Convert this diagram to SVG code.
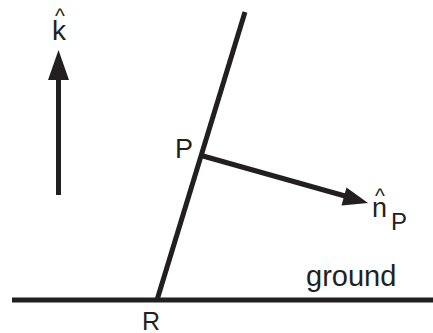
<svg xmlns="http://www.w3.org/2000/svg" width="433" height="333" viewBox="0 0 433 333">
<style>
.ln{stroke:#231f20;stroke-width:5;fill:none}
.lbl{font-family:"Liberation Sans",Arial,sans-serif;fill:#231f20}
.hat{font-family:"Liberation Sans",Arial,sans-serif;fill:#231f20;font-size:21px;text-anchor:middle}
.hd{fill:#231f20}
</style>
<rect width="433" height="333" fill="#fff"/>
<g id="ground">
<line class="ln" x1="12" y1="300" x2="433" y2="300"/>
<text class="lbl" x="306" y="286" font-size="29">ground</text>
</g>
<g id="rod">
<line class="ln" x1="157" y1="300" x2="245" y2="12"/>
</g>
<g id="R"><text class="lbl" x="142" y="330" font-size="25">R</text></g>
<g id="P"><text class="lbl" x="175" y="158" font-size="27">P</text></g>
<g id="k">
<text class="hat" x="60" y="23">^</text>
<text class="lbl" x="52" y="40" font-size="28">k</text>
</g>
<g id="nP">
<text class="hat" x="380" y="203">^</text>
<text class="lbl" x="372" y="217" font-size="27">n</text>
<text class="lbl" x="391" y="230" font-size="24">P</text>
</g>
<g id="connectors">
<line class="ln" x1="58.5" y1="195" x2="58.5" y2="76"/>
<polygon class="hd" points="58.5,50 69,80 48,80"/>
<line class="ln" x1="203" y1="156" x2="345" y2="196"/>
<polygon class="hd" points="368,203 341.5,205.5 346.5,187.5"/>
</g>
</svg>
